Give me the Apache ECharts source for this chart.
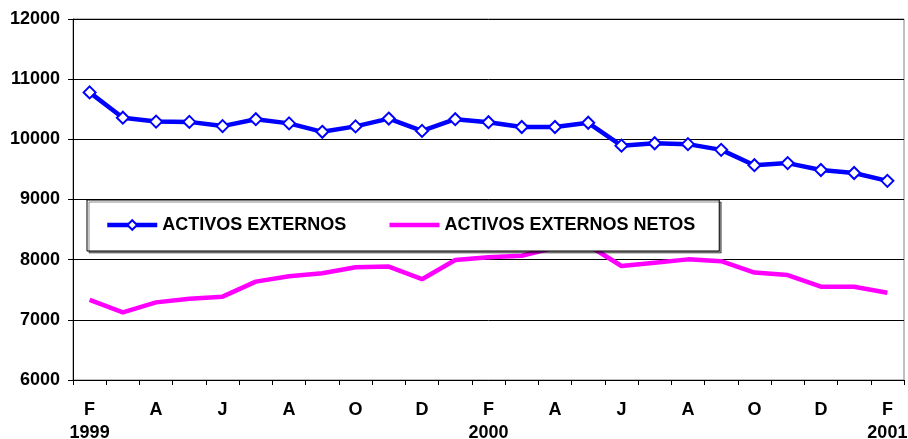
<!DOCTYPE html>
<html>
<head>
<meta charset="utf-8">
<script src="https://cdn.jsdelivr.net/npm/echarts@6/dist/echarts.min.js"></script>
<style>
html,body{margin:0;padding:0;background:#fff;}
#chart{width:908px;height:439px;}
</style>
</head>
<body>
<div id="chart"></div>
<script>
// Months Feb 1999 .. Feb 2001 (Spanish initials)
const months = ['F','M','A','M','J','J','A','S','O','N','D','E','F','M','A','M','J','J','A','S','O','N','D','E','F'];
const years  = ['1999','','','','','','','','','','','','2000','','','','','','','','','','','','2001'];
const activosExternos = [10780,10360,10295,10290,10220,10335,10265,10125,10215,10345,10140,10335,10285,10205,10205,10275,9895,9935,9920,9825,9570,9605,9490,9440,9310];
const activosExternosNetos = [7330,7125,7290,7350,7385,7635,7725,7775,7875,7885,7675,7995,8040,8065,8200,8240,7895,7950,8005,7975,7785,7745,7550,7550,7450];
const yTicks = {min: 6000, max: 12000, interval: 1000};

const chart = echarts.init(document.getElementById('chart'), null, {renderer: 'canvas'});
const font = 'Liberation Sans, Arial, sans-serif';
chart.setOption({
  animation: false,
  backgroundColor: '#fff',
  grid: {left: 73, right: 4, top: 19, bottom: 59, show: true, borderColor: '#808080', borderWidth: 1,
    containLabel: false, outerBoundsMode: 'none'},
  legend: {
    left: 87, top: 200,
    padding: [16, 24, 17, 18],
    itemWidth: 50, itemHeight: 12, itemGap: 41,
    backgroundColor: '#fff',
    borderColor: '#000', borderWidth: 1,
    shadowColor: 'rgba(0,0,0,0.45)', shadowOffsetX: 2, shadowOffsetY: 2, shadowBlur: 0,
    textStyle: {fontFamily: font, fontWeight: 'bold', fontSize: 18, color: '#000'},
    data: [
      {name: 'ACTIVOS EXTERNOS',
        lineStyle: {color: '#0000FF', width: 4.5}},
      {name: 'ACTIVOS EXTERNOS NETOS',
        itemStyle: {color: 'rgba(0,0,0,0)', borderColor: 'rgba(0,0,0,0)'},
        lineStyle: {color: '#FF00FF', width: 4.5}}
    ]
  },
  xAxis: {
    type: 'category',
    data: months,
    boundaryGap: true,
    axisLine: {lineStyle: {color: '#000', width: 1}},
    axisTick: {show: true, interval: 0, length: 5, lineStyle: {color: '#000'}},
    axisLabel: {
      interval: 1, margin: 19, hideOverlap: false,
      fontFamily: font, fontWeight: 'bold', fontSize: 18, color: '#000', lineHeight: 23,
      formatter: function (v, i) { return years[i] ? v + '\n' + years[i] : v; }
    },
    splitLine: {show: false}
  },
  yAxis: {
    type: 'value',
    min: yTicks.min, max: yTicks.max, interval: yTicks.interval,
    axisLine: {show: true, lineStyle: {color: '#000', width: 1}},
    axisTick: {show: true, length: 5, lineStyle: {color: '#000'}},
    axisLabel: {margin: 13, fontFamily: font, fontWeight: 'bold', fontSize: 18, color: '#000',
      formatter: function (v) { return String(v); }},
    splitLine: {show: true, lineStyle: {color: '#000', width: 1}}
  },
  series: [
    {
      name: 'ACTIVOS EXTERNOS', type: 'line', data: activosExternos,
      symbol: 'diamond', symbolSize: 12, showAllSymbol: true,
      lineStyle: {color: '#0000FF', width: 4.5},
      itemStyle: {color: '#fff', borderColor: '#0000FF', borderWidth: 2},
      z: 3
    },
    {
      name: 'ACTIVOS EXTERNOS NETOS', type: 'line', data: activosExternosNetos,
      symbol: 'none',
      lineStyle: {color: '#FF00FF', width: 4.5},
      itemStyle: {color: '#FF00FF'},
      z: 2
    }
  ]
});
</script>
</body>
</html>
